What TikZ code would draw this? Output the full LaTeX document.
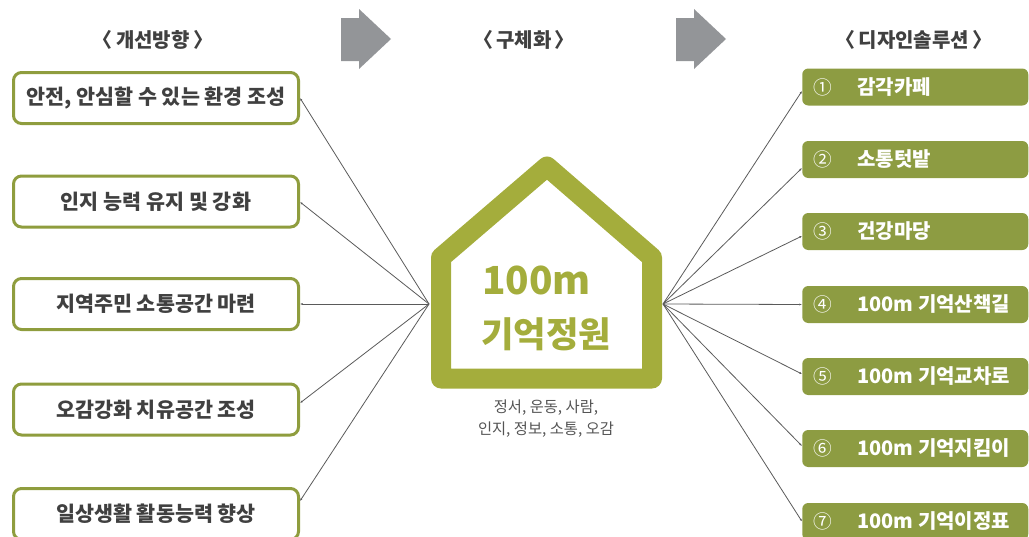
\documentclass[tikz,border=0pt]{standalone}
\usepackage{fontspec}
\setmainfont{Noto Sans CJK KR}
\usetikzlibrary{arrows.meta,calc}
\definecolor{housegreen}{HTML}{A4AD3C}
\definecolor{boxgreen}{HTML}{8D9C42}
\definecolor{bordergreen}{HTML}{8F9D3E}
\definecolor{txtgray}{HTML}{404040}
\definecolor{subgray}{HTML}{555555}
\definecolor{arrowgray}{HTML}{939598}
\definecolor{linegray}{HTML}{5A5A5A}
\tikzset{
  lbox/.style={draw=bordergreen, line width=2.25pt, rounded corners=6pt, minimum width=213.75pt, minimum height=38.25pt, inner sep=0pt, text=txtgray, font=\fontsize{15.5}{17}\selectfont\bfseries},
  rbox/.style={fill=boxgreen, rounded corners=4.5pt, minimum width=169.5pt, minimum height=27.75pt, inner sep=0pt, anchor=west},
  rnum/.style={text=white, inner sep=0pt, font=\fontsize{14}{16}\selectfont},
  rtxt/.style={text=white, anchor=west, inner sep=0pt, font=\fontsize{15}{17}\selectfont\bfseries},
  hdr/.style={text=txtgray, inner sep=0pt, font=\fontsize{15}{17}\selectfont\bfseries},
  conn/.style={draw=linegray, line width=0.6pt, -{Latex[length=2pt,width=1.6pt]}},
  garrow/.style={fill=arrowgray},
}
\begin{document}
\begin{tikzpicture}[x=0.75pt,y=-0.75pt]
\useasboundingbox (0,0) rectangle (1029,536);
\clip (0,0) rectangle (1029,536);
% headers
\node[hdr] (h1) at (153,40) {〈\,개선방향\,〉};
\node[hdr] (h2) at (524,40) {〈\,구체화\,〉};
\node[hdr] (h3) at (914,40) {〈\,디자인솔루션\,〉};
% gray arrows
\fill[garrow] (341,18) -- (359,18) -- (359,9) -- (391,39) -- (359,69) -- (359,61) -- (341,61) -- cycle;
\fill[garrow] (676,18) -- (694,18) -- (694,9) -- (726,39) -- (694,69) -- (694,61) -- (676,61) -- cycle;
% left boxes
\node[lbox] (l1) at (156,98) {안전, 안심할 수 있는 환경 조성};
\node[lbox] (l2) at (156,201.5) {인지 능력 유지 및 강화};
\node[lbox] (l3) at (156,304) {지역주민 소통공간 마련};
\node[lbox] (l4) at (156,409.5) {오감강화 치유공간 조성};
\node[lbox] (l5) at (156,514) {일상생활 활동능력 향상};
% house
\draw[housegreen, line width=15pt, line join=round] (441,257.5) -- (547,166.5) -- (652,257.5) -- (652,378.5) -- (441,378.5) -- cycle;
\node[text=housegreen, anchor=west, inner sep=0pt, font=\fontsize{29}{31}\selectfont\bfseries] (t100) at (482,280) {100m};
\node[text=housegreen, anchor=west, inner sep=0pt, font=\fontsize{26.5}{28}\selectfont\bfseries] (tgarden) at (481,334) {기억정원};
\node[text=subgray, align=center, inner sep=0pt, font=\fontsize{11.5}{16.5}\selectfont] (sub) at (546,419) {정서, 운동, 사람,\\인지, 정보, 소통, 오감};
\coordinate (hl) at (429,304);
\coordinate (hr) at (663,304);
% right boxes
\foreach \i/\y/\n/\t in {1/87/①/감각카페, 2/159.5/②/소통텃밭, 3/231.5/③/건강마당, 4/304.5/④/100m 기억산책길, 5/376.5/⑤/100m 기억교차로, 6/448.5/⑥/100m 기억지킴이, 7/521.5/⑦/100m 기억이정표}{
  \node[rbox] (r\i) at (802,\y) {};
  \node[rnum] (n\i) at (823,\y) {\n};
  \node[rtxt] (t\i) at (857,\y) {\t};
}
% connectors left
\draw[conn] (hl) -- (l1.east);
\draw[conn] (hl) -- ($(l2.east)+(0,0.5)$);
\draw[conn] (hl) -- (l3.east);
\draw[conn] (hl) -- ($(l4.east)+(0,-6.5)$);
\draw[conn] (hl) -- ($(l5.east)+(0,-13)$);
% connectors right
\draw[conn] (hr) -- ($(r1.west)+(0,4)$);
\draw[conn] (hr) -- ($(r2.west)+(0,8.5)$);
\draw[conn] (hr) -- ($(r3.west)+(0,4.5)$);
\draw[conn] (hr) -- (r4.west);
\draw[conn] (hr) -- ($(r5.west)+(0,-2.5)$);
\draw[conn] (hr) -- ($(r6.west)+(0,-2.5)$);
\draw[conn] (hr) -- (r7.west);
\end{tikzpicture}
\end{document}
